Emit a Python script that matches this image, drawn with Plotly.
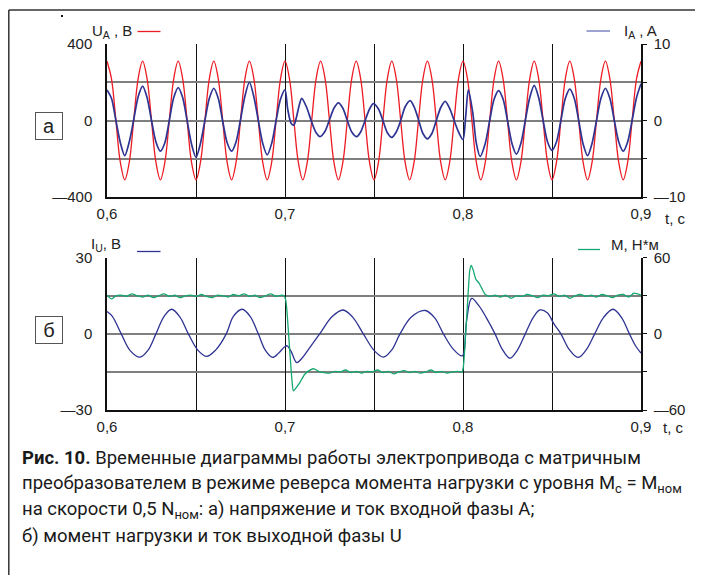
import plotly.graph_objects as go

# page has an 8px body margin, so the figure is 695x567 drawn at (8, 8)
OFF = 8
W, H = 703 - OFF, 575 - OFF

# ---------------- data ----------------
# (a) input phase A voltage, V (left axis), t in s
T_UA = [round(0.6 + 0.0025 * k, 4) for k in range(121)]
U_A = [310, 219, 0, -219, -310, -219, 0, 219,
       310, 219, 0, -219, -310, -219, 0, 219,
       310, 219, 0, -219, -310, -219, 0, 219,
       310, 219, 0, -219, -310, -219, 0, 219,
       310, 219, 0, -219, -310, -219, 0, 219,
       310, 219, 0, -219, -310, -219, 0, 219,
       310, 219, 0, -219, -310, -219, 0, 219,
       310, 219, 0, -219, -310, -219, 0, 219,
       310, 219, 0, -219, -310, -219, 0, 219,
       310, 219, 0, -219, -310, -219, 0, 219,
       310, 219, 0, -219, -310, -219, 0, 219,
       310, 219, 0, -219, -310, -219, 0, 219,
       310, 219, 0, -219, -310, -219, 0, 219,
       310, 219, 0, -219, -310, -219, 0, 219,
       310, 219, 0, -219, -310, -219, 0, 219,
       310]

# (a) input phase A current, A (right axis)
T_IA = [0.6000, 0.6025, 0.6050, 0.6075, 0.6100, 0.6125, 0.6150, 0.6175,
        0.6200, 0.6225, 0.6250, 0.6275, 0.6300, 0.6325, 0.6350, 0.6375,
        0.6400, 0.6425, 0.6450, 0.6475, 0.6500, 0.6525, 0.6550, 0.6575,
        0.6600, 0.6625, 0.6650, 0.6675, 0.6700, 0.6725, 0.6750, 0.6775,
        0.6800, 0.6825, 0.6850, 0.6875, 0.6900, 0.6925, 0.6950, 0.6975,
        0.7000, 0.7015, 0.7035, 0.7050, 0.7065, 0.7080, 0.7094, 0.7120,
        0.7150, 0.7175, 0.7197, 0.7225, 0.7250, 0.7275, 0.7300, 0.7325,
        0.7350, 0.7375, 0.7403, 0.7425, 0.7450, 0.7475, 0.7497, 0.7525,
        0.7550, 0.7575, 0.7600, 0.7625, 0.7650, 0.7675, 0.7703, 0.7725,
        0.7750, 0.7775, 0.7800, 0.7825, 0.7850, 0.7875, 0.7900, 0.7925,
        0.7950, 0.7975, 0.8000, 0.8015, 0.8030, 0.8055, 0.8075, 0.8096,
        0.8125, 0.8150, 0.8175, 0.8200, 0.8225, 0.8250, 0.8275, 0.8300,
        0.8325, 0.8350, 0.8375, 0.8400, 0.8425, 0.8450, 0.8475, 0.8500,
        0.8525, 0.8550, 0.8575, 0.8600, 0.8625, 0.8650, 0.8675, 0.8700,
        0.8725, 0.8750, 0.8775, 0.8800, 0.8825, 0.8850, 0.8875, 0.8900,
        0.8925, 0.8950, 0.8975, 0.9000]
I_A = [4.0, 2.9, 0.0, -2.9, -4.6, -2.8, 0.1, 3.1,
       4.5, 3.0, 0.0, -2.8, -4.0, -2.9, 0.0, 3.0,
       4.3, 3.0, 0.0, -3.1, -4.8, -3.0, 0.0, 2.9,
       4.2, 2.9, -0.1, -2.9, -4.0, -2.8, 0.1, 3.2,
       5.0, 3.1, 0.0, -3.0, -4.5, -3.0, 0.0, 2.8,
       4.0, 1.5, -0.4, -0.6, 0.5, 2.0, 2.9, 1.8,
       -0.2, -1.6, -2.1, -1.4, 0.1, 1.6, 2.3, 1.6,
       0.0, -1.5, -2.1, -1.5, 0.0, 1.5, 2.2, 1.5,
       0.0, -1.6, -2.2, -1.5, 0.0, 1.8, 2.6, 1.8,
       0.1, -1.7, -2.4, -1.7, 0.0, 1.7, 2.5, 1.6,
       0.0, -1.5, -2.5, 0.5, 4.0, 1.0, -3.0, -4.7,
       -3.0, 0.0, 2.8, 3.9, 2.8, 0.0, -3.0, -4.4,
       -3.0, 0.0, 3.0, 4.6, 3.0, 0.0, -2.8, -3.9,
       -2.8, 0.0, 2.9, 4.1, 2.9, 0.0, -3.1, -4.6,
       -3.0, 0.0, 2.9, 4.2, 2.9, 0.0, -2.8, -4.0,
       -2.8, 0.0, 3.0, 4.8]

# (b) output phase U current (left axis)
T_IU = [0.600, 0.603, 0.608, 0.613, 0.6185, 0.623, 0.6275, 0.632, 0.6363,
        0.641, 0.6457, 0.651, 0.656, 0.661, 0.667, 0.671, 0.676, 0.6805,
        0.685, 0.689, 0.6931, 0.6965, 0.700, 0.7012, 0.7035, 0.7066,
        0.710, 0.7135, 0.7195, 0.7265, 0.7326, 0.738, 0.744, 0.750,
        0.7553, 0.760, 0.7646, 0.771, 0.7787, 0.784, 0.789, 0.7945,
        0.7995, 0.8005, 0.802, 0.8049, 0.809, 0.813, 0.818, 0.822,
        0.8264, 0.8305, 0.835, 0.8395, 0.8433, 0.8475, 0.851, 0.855,
        0.8595, 0.8646, 0.869, 0.874, 0.879, 0.8843, 0.889, 0.8935,
        0.897, 0.900]
I_U = [8.8, 6.9, 0.0, -6.6, -9.2, -6.5, 0.0, 6.8, 9.7,
       6.6, 0.0, -6.4, -8.9, -6.4, 0.0, 6.9, 9.7, 6.8,
       0.0, -6.5, -9.3, -7.5, -5.0, -4.7, -7.0, -11.3,
       -9.2, -5.8, 0.0, 6.8, 9.4, 6.6, 0.0, -6.5,
       -9.2, -6.3, 0.0, 6.6, 9.2, 6.4, 0.0, -6.0,
       -8.7, -7.5, 5.0, 14.0, 11.0, 6.5, 0.0, -6.0,
       -9.6, -6.5, 0.0, 6.5, 9.4, 8.2, 4.0, 0.0,
       -6.0, -9.3, -6.5, 0.0, 6.5, 9.7, 6.5, 0.0,
       -4.8, -7.6]

# (b) load torque M, N*m (right axis)
T_M = [0.600, 0.6025, 0.605, 0.608, 0.611, 0.614, 0.617, 0.620, 0.623, 0.626,
       0.629, 0.632, 0.635, 0.638, 0.641, 0.644, 0.647, 0.650, 0.653, 0.656,
       0.659, 0.662, 0.665, 0.668, 0.671, 0.674, 0.677, 0.680, 0.683, 0.686,
       0.689, 0.692, 0.695, 0.698, 0.6995,
       0.7005, 0.7025, 0.704, 0.7047, 0.706, 0.7085, 0.711, 0.7135, 0.716,
       0.719, 0.722, 0.725, 0.728, 0.731, 0.734, 0.737, 0.740, 0.743, 0.746,
       0.749, 0.752, 0.755, 0.758, 0.761, 0.764, 0.767, 0.770, 0.773, 0.776,
       0.779, 0.782, 0.785, 0.788, 0.791, 0.794, 0.797, 0.7995,
       0.8002, 0.8015, 0.8028, 0.8038, 0.8046, 0.8058, 0.8072, 0.809, 0.8105,
       0.8125, 0.815, 0.818, 0.821, 0.824, 0.827, 0.830, 0.833, 0.836, 0.839,
       0.842, 0.845, 0.848, 0.851, 0.854, 0.857, 0.860, 0.863, 0.866, 0.869,
       0.872, 0.875, 0.878, 0.881, 0.884, 0.887, 0.890, 0.893, 0.896, 0.900]
M = [30.5, 27.5, 30, 30.5, 29.5, 31.5, 30, 29, 30.5, 28.5,
     30, 31.5, 29.5, 30.5, 28.5, 30, 30.5, 29.5, 31, 29.5,
     28.5, 30.5, 30, 29, 31, 30, 31.5, 29.5, 30.5, 28.5,
     30, 31.5, 29.5, 30.5, 30,
     26, -10, -38, -45, -43, -38, -32, -29, -27.5,
     -29.5, -30.5, -31, -29.5, -30, -28.5, -30.5, -29.5, -31, -29.5,
     -30, -28.5, -30.5, -29.5, -31.5, -30, -29, -30.5, -29.5, -31,
     -30, -28.5, -30.5, -29.5, -31, -30, -29.5, -30,
     -26, 0, 30, 50, 54, 50, 43, 40, 36,
     31, 29.5, 30.5, 29, 30.5, 28, 30, 29.5, 31, 30,
     28.5, 30.5, 30, 31.5, 29.5, 30.5, 28, 30, 31, 29.5,
     30.5, 29, 31, 30, 28.5, 30.5, 31, 29, 32, 30.5]

X_TICKS = [0.6, 0.7, 0.8, 0.9]
X_TICKTEXT = ["0,6", "0,7", "0,8", "0,9"]
X_MINOR = [0.65, 0.75, 0.85]
UA_TICKS = [-400, 0, 400]
UA_TICKTEXT = ["\u2014400", "0", "400"]
UA_MINOR = [-200, 200]
IA_TICKS = [-10, 0, 10]
IA_TICKTEXT = ["\u201410", "0", "10"]
IA_MINOR = [-5, 5]
IU_TICKS = [-30, 0, 30]
IU_TICKTEXT = ["\u201430", "0", "30"]
IU_MINOR = [-15, 15]
M_TICKS = [-60, 0, 60]
M_TICKTEXT = ["\u201460", "0", "60"]
M_MINOR = [-30, 30]

CAPTION = [
    "<b>Рис. 10.</b> Временные диаграммы работы электропривода с матричным",
    "преобразователем в режиме реверса момента нагрузки с уровня M<sub>c</sub> = M<sub>ном</sub>",
    "на скорости 0,5 N<sub>ном</sub>: а) напряжение и ток входной фазы А;",
    "б) момент нагрузки и ток выходной фазы U",
]

# ---------------- styling ----------------
RED = "#ec1c24"
NAVY = "#2e3492"
GREEN = "#16a870"
GRID = "#7f7f7f"
FONT = "Liberation Sans, Arial, sans-serif"
CAP_FONT = "Roboto, sans-serif"


def X(px):
    return (px - OFF) / W


def Y(py):
    return 1 - (py - OFF) / H


x_dom = [X(107), X(641)]
top_dom = [Y(197), Y(44)]
bot_dom = [Y(410), Y(257.7)]

fig = go.Figure()
fig.add_trace(go.Scatter(x=T_UA, y=U_A, mode="lines", xaxis="x", yaxis="y",
                         line=dict(color=RED, width=1.3, shape="spline"), hoverinfo="skip"))
fig.add_trace(go.Scatter(x=T_IA, y=I_A, mode="lines", xaxis="x", yaxis="y2",
                         line=dict(color=NAVY, width=1.7, shape="spline", smoothing=0.8),
                         hoverinfo="skip"))
fig.add_trace(go.Scatter(x=T_M, y=M, mode="lines", xaxis="x2", yaxis="y4",
                         line=dict(color=GREEN, width=1.3, shape="spline", smoothing=0.6),
                         hoverinfo="skip"))
fig.add_trace(go.Scatter(x=T_IU, y=I_U, mode="lines", xaxis="x2", yaxis="y3",
                         line=dict(color=NAVY, width=1.3, shape="spline"), hoverinfo="skip"))

tickfont = dict(family=FONT, size=15, color="#222")

xcommon = dict(range=[0.6, 0.9], tickvals=X_TICKS, ticktext=X_TICKTEXT, showgrid=True,
               gridcolor="#111", gridwidth=1.2, showline=True, linecolor="#111", linewidth=1.5,
               ticks="", zeroline=False, tickfont=tickfont, ticklabelstandoff=2,
               minor=dict(tickvals=X_MINOR, showgrid=True, gridcolor="#111", gridwidth=1.2, ticks=""),
               automargin=False, fixedrange=True)


def yleft(dom, anchor, rng, tv, tt, mv):
    return dict(domain=dom, anchor=anchor, range=rng, tickvals=tv, ticktext=tt,
                showgrid=True, gridcolor=GRID, gridwidth=2,
                minor=dict(tickvals=mv, showgrid=True, gridcolor=GRID, gridwidth=2, ticks=""),
                showline=True, linecolor="#111", linewidth=1.5, ticks="", zeroline=False,
                tickfont=tickfont, ticklabelstandoff=10, automargin=False, fixedrange=True)


def yright(over, anchor, rng, tv, tt, mv):
    return dict(overlaying=over, side="right", anchor=anchor, range=rng, tickvals=tv,
                ticktext=tt, showgrid=False, showline=True, linecolor="#111", linewidth=1.5,
                ticks="outside", ticklen=4, tickcolor="#111", zeroline=False,
                minor=dict(tickvals=mv, ticks="outside", ticklen=4, tickcolor="#111", showgrid=False),
                tickfont=tickfont, ticklabelstandoff=4, automargin=False, fixedrange=True)


fig.update_layout(
    width=W, height=H, margin=dict(l=0, r=0, t=0, b=0, autoexpand=False),
    paper_bgcolor="white", plot_bgcolor="white", showlegend=False,
    xaxis=dict(domain=x_dom, anchor="y", **xcommon),
    xaxis2=dict(domain=x_dom, anchor="y3", **xcommon),
    yaxis=yleft(top_dom, "x", [-400, 400], UA_TICKS, UA_TICKTEXT, UA_MINOR),
    yaxis2=yright("y", "x", [-10, 10], IA_TICKS, IA_TICKTEXT, IA_MINOR),
    yaxis3=yleft(bot_dom, "x2", [-30, 30], IU_TICKS, IU_TICKTEXT, IU_MINOR),
    yaxis4=yright("y3", "x2", [-60, 60], M_TICKS, M_TICKTEXT, M_MINOR),
)

shapes = [
    # outer frame (left and top edges)
    dict(type="line", xref="paper", yref="paper", x0=X(8.8), y0=Y(10), x1=X(703), y1=Y(10),
         line=dict(color="#333", width=1.5)),
    dict(type="line", xref="paper", yref="paper", x0=X(8.8), y0=Y(10), x1=X(8.8), y1=Y(575),
         line=dict(color="#333", width=1.5)),
    # stray dot
    dict(type="rect", xref="paper", yref="paper", x0=X(61), y0=Y(17), x1=X(63), y1=Y(15),
         fillcolor="#111", line=dict(width=0)),
    # legend keys
    dict(type="line", xref="paper", yref="paper", x0=X(137.5), y0=Y(31.5), x1=X(160.5), y1=Y(31.5),
         line=dict(color=RED, width=1.3)),
    dict(type="line", xref="paper", yref="paper", x0=X(586.5), y0=Y(31), x1=X(610), y1=Y(31),
         line=dict(color="#7b83c2", width=1.5)),
    dict(type="line", xref="paper", yref="paper", x0=X(137), y0=Y(251.5), x1=X(160.5), y1=Y(251.5),
         line=dict(color=NAVY, width=1.3)),
    dict(type="line", xref="paper", yref="paper", x0=X(578), y0=Y(249.5), x1=X(600), y1=Y(249.5),
         line=dict(color=GREEN, width=1.3)),
]
fig.update_layout(shapes=shapes)

lab = dict(family=FONT, size=15, color="#222")
ann = [
    dict(x=X(90), y=Y(31), text="U<sub>A</sub> , B", xanchor="left", yanchor="middle"),
    dict(x=X(622), y=Y(31), text="I<sub>A</sub> , A", xanchor="left", yanchor="middle"),
    dict(x=X(89), y=Y(244), text="I<sub>U</sub>, B", xanchor="left", yanchor="middle"),
    dict(x=X(609), y=Y(244), text="M, Н*м", xanchor="left", yanchor="middle"),
    dict(x=X(675), y=Y(218), text="t, c", xanchor="center", yanchor="middle"),
    dict(x=X(673), y=Y(427), text="t, c", xanchor="center", yanchor="middle"),
]
annotations = []
for a in ann:
    a.update(xref="paper", yref="paper", showarrow=False, font=lab)
    annotations.append(a)

for txt, cy in (("а", 126), ("б", 330)):
    annotations.append(dict(x=X(49), y=Y(cy), xref="paper", yref="paper", text=txt,
                            showarrow=False, xanchor="center", yanchor="middle",
                            font=dict(family=FONT, size=20, color="#222"),
                            bordercolor="#555", borderwidth=1, width=24, height=24,
                            borderpad=1, bgcolor="white"))

for i, line in enumerate(CAPTION):
    annotations.append(dict(x=X(20), y=Y(458 + 26 * i), xref="paper", yref="paper",
                            text=line, showarrow=False, xanchor="left", yanchor="middle",
                            font=dict(family=CAP_FONT, size=18.5, color="#1a1a1a")))

fig.update_layout(annotations=annotations)

fig.write_html("out.html")
